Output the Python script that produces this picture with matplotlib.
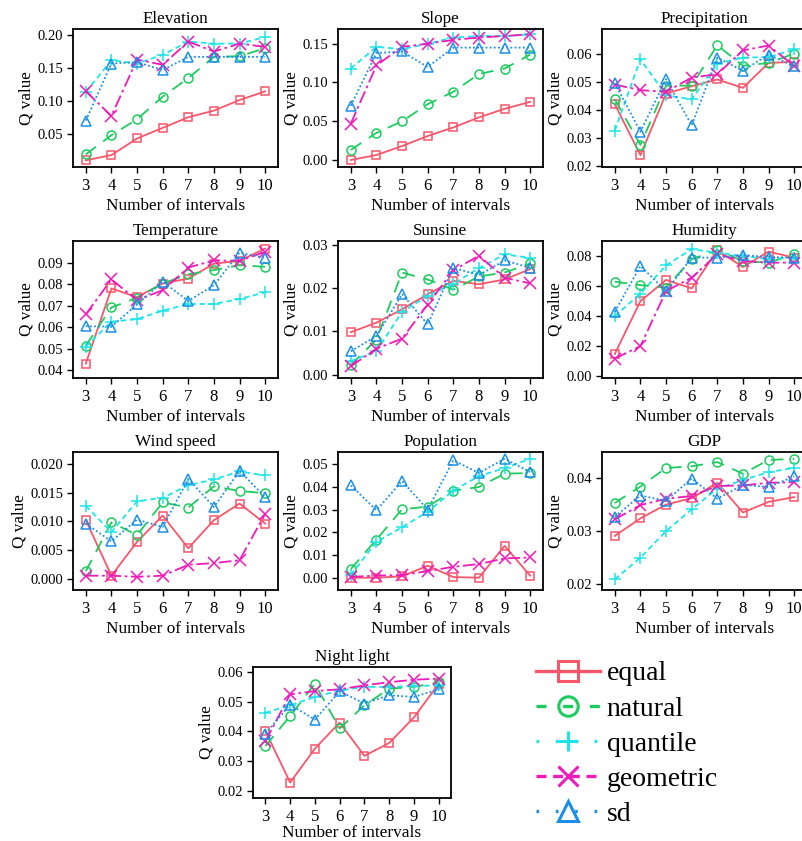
import numpy as np
import matplotlib
matplotlib.use("Agg")
import matplotlib.pyplot as plt
from matplotlib.lines import Line2D
from matplotlib.ticker import FixedLocator, FormatStrFormatter

plt.rcParams['font.family'] = ['Liberation Serif', 'DejaVu Serif']

intervals = [3, 4, 5, 6, 7, 8, 9, 10]
methods = ['equal', 'natural', 'quantile', 'geometric', 'sd']

# Q values, one list per method, order as in `methods`
elevation = [
    [0.011, 0.019, 0.044, 0.060, 0.076, 0.086, 0.102, 0.115],
    [0.020, 0.049, 0.073, 0.107, 0.135, 0.167, 0.168, 0.180],
    [0.114, 0.162, 0.157, 0.170, 0.190, 0.187, 0.187, 0.197],
    [0.115, 0.078, 0.163, 0.155, 0.190, 0.175, 0.187, 0.182],
    [0.071, 0.157, 0.159, 0.147, 0.167, 0.167, 0.167, 0.167],
]
slope = [
    [0.000, 0.0065, 0.018, 0.031, 0.042, 0.055, 0.066, 0.075],
    [0.013, 0.035, 0.050, 0.072, 0.088, 0.111, 0.118, 0.136],
    [0.118, 0.146, 0.143, 0.150, 0.158, 0.160, 0.160, 0.162],
    [0.047, 0.122, 0.146, 0.150, 0.155, 0.158, 0.160, 0.162],
    [0.070, 0.138, 0.140, 0.120, 0.145, 0.145, 0.145, 0.145],
]
precipitation = [
    [0.0422, 0.0240, 0.0460, 0.0486, 0.0510, 0.0480, 0.0569, 0.0573],
    [0.0439, 0.0277, 0.0488, 0.0488, 0.0632, 0.0559, 0.0569, 0.0602],
    [0.0328, 0.0582, 0.0454, 0.0439, 0.0567, 0.0588, 0.0590, 0.0617],
    [0.0492, 0.0472, 0.0466, 0.0517, 0.0529, 0.0614, 0.0631, 0.0559],
    [0.0496, 0.0324, 0.0511, 0.0347, 0.0588, 0.0541, 0.0599, 0.0557],
]
temperature = [
    [0.0432, 0.0780, 0.0740, 0.0803, 0.0826, 0.0895, 0.0908, 0.0965],
    [0.0515, 0.0692, 0.0737, 0.0803, 0.0846, 0.0865, 0.0888, 0.0880],
    [0.0510, 0.0626, 0.0638, 0.0677, 0.0708, 0.0708, 0.0731, 0.0762],
    [0.0660, 0.0822, 0.0726, 0.0772, 0.0877, 0.0910, 0.0908, 0.0950],
    [0.0605, 0.0603, 0.0706, 0.0811, 0.0722, 0.0795, 0.0946, 0.0922],
]
sunshine = [
    [0.0098, 0.0120, 0.0151, 0.0186, 0.0217, 0.0209, 0.0220, 0.0244],
    [0.0022, 0.0081, 0.0236, 0.0220, 0.0196, 0.0227, 0.0236, 0.0257],
    [0.0031, 0.0054, 0.0145, 0.0182, 0.0210, 0.0246, 0.0278, 0.0270],
    [0.0019, 0.0060, 0.0083, 0.0162, 0.0241, 0.0275, 0.0224, 0.0211],
    [0.0054, 0.0089, 0.0186, 0.0116, 0.0247, 0.0230, 0.0264, 0.0247],
]
humidity = [
    [0.0145, 0.0498, 0.0640, 0.0583, 0.0838, 0.0726, 0.0829, 0.0789],
    [0.0628, 0.0605, 0.0588, 0.0778, 0.0840, 0.0766, 0.0755, 0.0811],
    [0.0398, 0.0548, 0.0737, 0.0845, 0.0822, 0.0800, 0.0778, 0.0789],
    [0.0114, 0.0197, 0.0565, 0.0655, 0.0811, 0.0766, 0.0755, 0.0755],
    [0.0427, 0.0733, 0.0565, 0.0789, 0.0789, 0.0805, 0.0793, 0.0789],
]
wind_speed = [
    [0.0102, 0.0005, 0.0064, 0.0110, 0.0053, 0.0102, 0.0131, 0.0096],
    [0.0013, 0.0098, 0.0076, 0.0133, 0.0124, 0.0161, 0.0153, 0.0149],
    [0.0127, 0.0081, 0.0135, 0.0141, 0.0163, 0.0173, 0.0187, 0.0180],
    [0.0005, 0.0005, 0.0003, 0.0005, 0.0024, 0.0027, 0.0032, 0.0113],
    [0.0096, 0.0065, 0.0103, 0.0090, 0.0174, 0.0125, 0.0188, 0.0142],
]
population = [
    [0.0000, 0.0000, 0.0006, 0.0053, 0.0003, 0.0000, 0.0140, 0.0009],
    [0.0038, 0.0168, 0.0301, 0.0313, 0.0383, 0.0399, 0.0458, 0.0460],
    [0.0012, 0.0158, 0.0222, 0.0290, 0.0383, 0.0447, 0.0482, 0.0523],
    [0.0004, 0.0009, 0.0012, 0.0029, 0.0048, 0.0060, 0.0085, 0.0089],
    [0.0406, 0.0297, 0.0425, 0.0300, 0.0516, 0.0461, 0.0523, 0.0465],
]
gdp = [
    [0.0291, 0.0324, 0.0350, 0.0362, 0.0391, 0.0335, 0.0355, 0.0364],
    [0.0353, 0.0384, 0.0419, 0.0422, 0.0430, 0.0408, 0.0434, 0.0436],
    [0.0209, 0.0250, 0.0300, 0.0341, 0.0380, 0.0396, 0.0411, 0.0419],
    [0.0322, 0.0349, 0.0361, 0.0366, 0.0385, 0.0386, 0.0391, 0.0392],
    [0.0327, 0.0367, 0.0357, 0.0399, 0.0361, 0.0387, 0.0383, 0.0403],
]
night_light = [
    [0.0402, 0.0228, 0.0342, 0.0430, 0.0318, 0.0361, 0.0447, 0.0560],
    [0.0351, 0.0452, 0.0561, 0.0410, 0.0488, 0.0544, 0.0550, 0.0565],
    [0.0463, 0.0488, 0.0516, 0.0538, 0.0550, 0.0550, 0.0553, 0.0555],
    [0.0367, 0.0525, 0.0536, 0.0542, 0.0555, 0.0566, 0.0574, 0.0578],
    [0.0393, 0.0490, 0.0440, 0.0535, 0.0494, 0.0522, 0.0516, 0.0542],
]

titles = ['Elevation', 'Slope', 'Precipitation', 'Temperature', 'Sunsine',
          'Humidity', 'Wind speed', 'Population', 'GDP', 'Night light']
panels = [elevation, slope, precipitation, temperature, sunshine,
          humidity, wind_speed, population, gdp, night_light]
ylims = [(0.001, 0.209), (-0.009, 0.169), (0.0198, 0.069), (0.0365, 0.100),
         (-0.0008, 0.0309), (-0.0016, 0.090), (-0.002, 0.0221),
         (-0.0054, 0.0553), (0.0189, 0.0449), (0.0176, 0.0617)]
yticks = [[0.05, 0.10, 0.15, 0.20], [0.00, 0.05, 0.10, 0.15],
          [0.02, 0.03, 0.04, 0.05, 0.06], [0.04, 0.05, 0.06, 0.07, 0.08, 0.09],
          [0.00, 0.01, 0.02, 0.03], [0.00, 0.02, 0.04, 0.06, 0.08],
          [0.000, 0.005, 0.010, 0.015, 0.020], [0.00, 0.01, 0.02, 0.03, 0.04, 0.05],
          [0.02, 0.03, 0.04], [0.02, 0.03, 0.04, 0.05, 0.06]]
yfmt = ['%.2f'] * 6 + ['%.3f'] + ['%.2f'] * 3

# styles
colors = ['#F8566B', '#1DCB5F', '#1CE4E8', '#EE1AB9', '#1B8FE6']
markers = ['s', 'o', '+', 'x', '^']
dashes = ['-', (0, (7, 5)), (0, (3, 2)), (0, (7, 2, 1.5, 2)), (0, (1, 1.3))]
leg_dashes = ['-', (0, (3, 5)), (0, (0.8, 5)), (0, (3, 2)), (0, (0.8, 5))]
msizes = [6, 6.5, 8, 8, 7]

W, H = 803, 841
fig = plt.figure(figsize=(W / 100, H / 100), dpi=100)

# axes boxes in pixels: left, top, right, bottom
lefts = [73, 338, 602]
rows = [(29, 167), (241, 378), (452, 590)]
boxes = []
for r in rows:
    for l in lefts:
        boxes.append((l, r[0], l + 205, r[1]))
boxes.append((253, 667, 451, 798))

for k in range(10):
    l, t, r, b = boxes[k]
    ax = fig.add_axes([l / W, 1 - b / H, (r - l) / W, (b - t) / H])
    data = panels[k]
    for i in range(5):
        ax.plot(intervals, data[i], color=colors[i], linestyle=dashes[i],
                marker=markers[i], markersize=msizes[i], markerfacecolor='none',
                markeredgewidth=1.1, linewidth=1.3, clip_on=False)
    ax.set_xlim(2.5, 10.5)
    ax.set_ylim(*ylims[k])
    ax.set_xticks(intervals)
    ax.yaxis.set_major_locator(FixedLocator(yticks[k]))
    ax.yaxis.set_major_formatter(FormatStrFormatter(yfmt[k]))
    ax.tick_params(direction='out', length=4, width=1, labelsize=10.5, pad=3)
    ax.tick_params(axis='x', labelsize=12, pad=4)
    for s in ax.spines.values():
        s.set_linewidth(1.3)
    ax.set_title(titles[k], fontsize=12.3, pad=4)
    ax.set_xlabel('Number of intervals', fontsize=12.4,
                  labelpad=0 if k == 9 else 3)
    ax.set_ylabel('Q value', fontsize=12.3, labelpad=2)

handles = [Line2D([], [], color=colors[i], linestyle=leg_dashes[i], marker=markers[i],
                  markersize=14, markerfacecolor='none', markeredgewidth=2.2,
                  linewidth=2.4) for i in range(5)]
fig.legend(handles, methods, loc='upper left', bbox_to_anchor=(536 / W, 1 - 661 / H),
           frameon=False, fontsize=20, handlelength=2.3, handletextpad=0.25,
           labelspacing=0.35, borderpad=0, borderaxespad=0)

fig.savefig('out.png', dpi=100)
